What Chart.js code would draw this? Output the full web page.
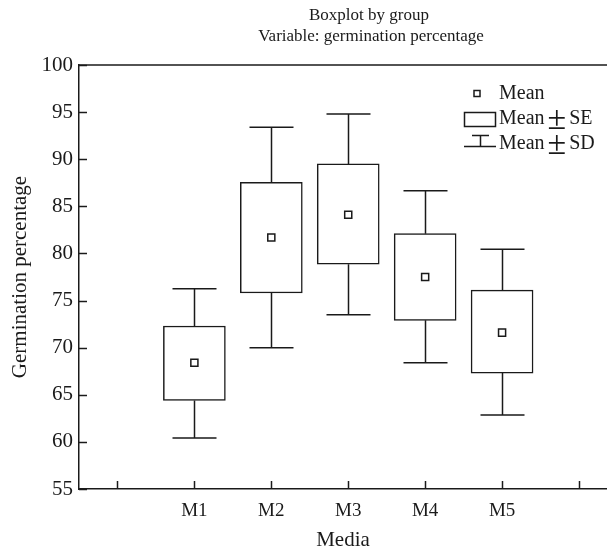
<!DOCTYPE html>
<html>
<head>
<meta charset="utf-8">
<script src="https://cdn.jsdelivr.net/npm/chart.js@4.4.0/dist/chart.umd.min.js"></script>
<style>
  html, body { margin: 0; padding: 0; background: #fff; }
  #wrap { width: 607px; height: 546px; }
</style>
</head>
<body>
<div id="wrap"><canvas id="c" width="607" height="546"></canvas></div>
<script>
// ---- data ----
const categories = ['M1', 'M2', 'M3', 'M4', 'M5'];
const meanValues = [68.4, 81.7, 84.1, 77.5, 71.6];
const seLower    = [64.4, 75.8, 78.85, 72.9, 67.3];
const seUpper    = [72.3, 87.55, 89.5, 82.1, 76.1];
const sdLower    = [60.4, 70.0, 73.5, 68.4, 62.85];
const sdUpper    = [76.25, 93.4, 94.8, 86.65, 80.45];
const yTickValues = [55, 60, 65, 70, 75, 80, 85, 90, 95, 100];
const titleLines = ['Boxplot by group', 'Variable: germination percentage'];
const legendLabels = ['Mean', 'Mean', 'Mean'];
const legendSuffix = ['', 'SE', 'SD'];

const INK = '#1a1a1a';
const SERIF = "'Liberation Serif', 'DejaVu Serif', serif";

const boxData = categories.map((c, i) => ({ x: i + 1, y: [seLower[i], seUpper[i]] }));
const meanData = categories.map((c, i) => ({ x: i + 1, y: meanValues[i] }));

const decorPlugin = {
  id: 'decor',
  beforeDatasetsDraw(chart) {
    const { ctx, chartArea: a, scales: { x, y } } = chart;
    ctx.save();
    ctx.strokeStyle = INK;
    ctx.lineWidth = 1.5;
    // top border
    ctx.beginPath();
    ctx.moveTo(a.left, a.top);
    ctx.lineTo(a.right, a.top);
    ctx.stroke();
    // inward ticks on y
    y.ticks.forEach(t => {
      const py = Math.round(y.getPixelForValue(t.value)) + 0.5;
      ctx.beginPath();
      ctx.moveTo(a.left, py);
      ctx.lineTo(a.left + 8, py);
      ctx.stroke();
    });
    // inward ticks on x
    x.ticks.forEach(t => {
      const px = Math.round(x.getPixelForValue(t.value)) + 0.5;
      ctx.beginPath();
      ctx.moveTo(px, a.bottom);
      ctx.lineTo(px, a.bottom - 8);
      ctx.stroke();
    });
    // whiskers (mean ± SD)
    const capHalf = 22;
    categories.forEach((c, i) => {
      const px = Math.round(x.getPixelForValue(i + 1)) + 0.5;
      const yTop = y.getPixelForValue(sdUpper[i]);
      const ySeTop = y.getPixelForValue(seUpper[i]);
      const ySeBot = y.getPixelForValue(seLower[i]);
      const yBot = y.getPixelForValue(sdLower[i]);
      ctx.beginPath();
      ctx.moveTo(px, yTop); ctx.lineTo(px, ySeTop);
      ctx.moveTo(px, ySeBot); ctx.lineTo(px, yBot);
      ctx.moveTo(px - capHalf, yTop); ctx.lineTo(px + capHalf, yTop);
      ctx.moveTo(px - capHalf, yBot); ctx.lineTo(px + capHalf, yBot);
      ctx.stroke();
    });
    ctx.restore();
  },
  afterDraw(chart) {
    const { ctx } = chart;
    ctx.save();
    ctx.fillStyle = INK;
    ctx.strokeStyle = INK;
    // title
    ctx.font = '17px ' + SERIF;
    ctx.textAlign = 'center';
    ctx.textBaseline = 'middle';
    ctx.fillText(titleLines[0], 369, 16);
    ctx.fillText(titleLines[1], 371, 37);
    // legend
    const tx = 499;
    const rows = [94, 119, 144];
    ctx.textAlign = 'left';
    rows.forEach((ry, i) => {
      ctx.font = '20px ' + SERIF;
      ctx.fillText(legendLabels[i], tx, ry);
      if (legendSuffix[i]) {
        const w = ctx.measureText(legendLabels[i]).width;
        ctx.font = '34px ' + SERIF;
        ctx.fillText('\u00B1', tx + w + 3, ry + 1);
        const w2 = ctx.measureText('\u00B1').width;
        ctx.font = '20px ' + SERIF;
        ctx.fillText(legendSuffix[i], tx + w + w2 + 6, ry);
      }
    });
    ctx.lineWidth = 1.5;
    // mean symbol
    ctx.fillStyle = '#fff';
    ctx.fillRect(474, 90.5, 6, 6);
    ctx.strokeRect(474, 90.5, 6, 6);
    // box symbol
    ctx.strokeRect(464.5, 112.5, 31, 14);
    // SD symbol
    ctx.beginPath();
    ctx.moveTo(464, 146.5); ctx.lineTo(496, 146.5);
    ctx.moveTo(480.5, 146.5); ctx.lineTo(480.5, 135.5);
    ctx.moveTo(472, 135.5); ctx.lineTo(489, 135.5);
    ctx.stroke();
    ctx.restore();
  }
};

new Chart(document.getElementById('c'), {
  type: 'bar',
  data: {
    datasets: [
      {
        type: 'bar',
        label: 'Mean ± SE',
        data: boxData,
        backgroundColor: '#ffffff',
        borderColor: INK,
        borderWidth: 1.5,
        borderSkipped: false,
        barThickness: 62,
        order: 2
      },
      {
        type: 'scatter',
        label: 'Mean',
        data: meanData,
        pointStyle: 'rect',
        pointRadius: 5,
        pointHoverRadius: 5,
        backgroundColor: '#ffffff',
        borderColor: INK,
        borderWidth: 1.5,
        order: 1
      }
    ]
  },
  options: {
    responsive: false,
    animation: false,
    events: [],
    layout: { autoPadding: false, padding: { top: 65, right: 0, left: 0, bottom: 0 } },
    plugins: {
      legend: { display: false },
      title: { display: false },
      tooltip: { enabled: false }
    },
    scales: {
      x: {
        type: 'linear',
        offset: false,
        min: -0.5,
        max: 6.364,
        afterFit(s) { s.height = 57; s.paddingLeft = 0; s.paddingRight = 0; },
        afterBuildTicks(s) { s.ticks = [0, 1, 2, 3, 4, 5, 6].map(v => ({ value: v })); },
        grid: { display: false, drawTicks: false },
        border: { display: true, color: INK, width: 1.5 },
        ticks: {
          autoSkip: false,
          maxRotation: 0,
          padding: 11,
          color: INK,
          font: { family: SERIF, size: 19 },
          callback: v => categories[v - 1] || ''
        },
        title: {
          display: true,
          text: 'Media',
          color: INK,
          font: { family: SERIF, size: 21, lineHeight: 0.5 },
          padding: { top: 0, bottom: 0 }
        }
      },
      y: {
        type: 'linear',
        min: 55,
        max: 100,
        afterFit(s) { s.width = 79; s.paddingTop = 0; s.paddingBottom = 0; },
        afterBuildTicks(s) { s.ticks = yTickValues.map(v => ({ value: v })); },
        grid: { display: false, drawTicks: false },
        border: { display: true, color: INK, width: 1.5 },
        ticks: {
          padding: 6,
          color: INK,
          font: { family: SERIF, size: 21 }
        },
        title: {
          display: true,
          text: 'Germination percentage',
          color: INK,
          font: { family: SERIF, size: 21, lineHeight: 1.2 },
          padding: { top: 8, bottom: 0 }
        }
      }
    }
  },
  plugins: [decorPlugin]
});
</script>
</body>
</html>
